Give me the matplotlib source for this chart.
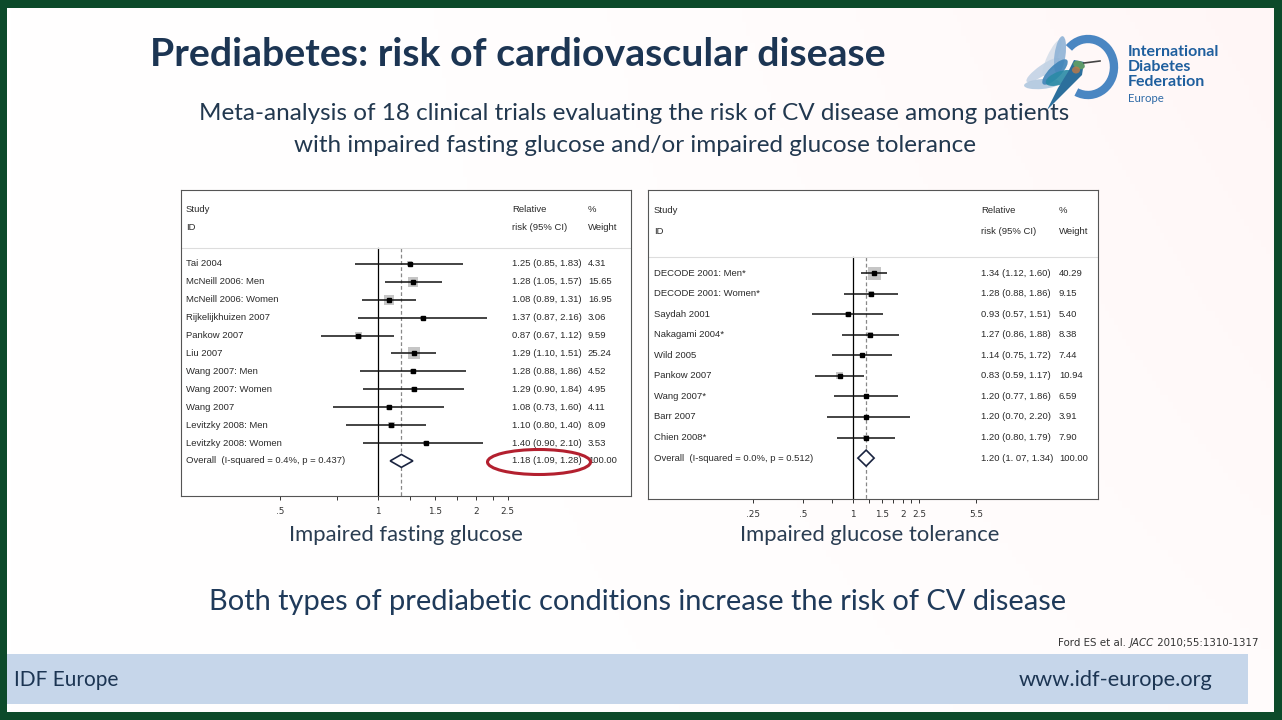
import numpy as np
import matplotlib
matplotlib.use('Agg')
import matplotlib.pyplot as plt
from matplotlib.patches import Rectangle, Ellipse, Polygon, Arc
from matplotlib.ticker import NullLocator
from matplotlib.transforms import blended_transform_factory

# impaired fasting glucose
ifg_studies = ["Tai 2004", "McNeill 2006: Men", "McNeill 2006: Women", "Rijkelijkhuizen 2007",
               "Pankow 2007", "Liu 2007", "Wang 2007: Men", "Wang 2007: Women", "Wang 2007",
               "Levitzky 2008: Men", "Levitzky 2008: Women"]
ifg_rr = [1.25, 1.28, 1.08, 1.37, 0.87, 1.29, 1.28, 1.29, 1.08, 1.10, 1.40]
ifg_lo = [0.85, 1.05, 0.89, 0.87, 0.67, 1.10, 0.88, 0.90, 0.73, 0.80, 0.90]
ifg_hi = [1.83, 1.57, 1.31, 2.16, 1.12, 1.51, 1.86, 1.84, 1.60, 1.40, 2.10]
ifg_wt = [4.31, 15.65, 16.95, 3.06, 9.59, 25.24, 4.52, 4.95, 4.11, 8.09, 3.53]
ifg_overall = [1.18, 1.09, 1.28]
ifg_overall_label = "Overall  (I-squared = 0.4%, p = 0.437)"
ifg_overall_text = "1.18 (1.09, 1.28)"
ifg_ticks = [0.5, 0.75, 1, 1.25, 1.5, 1.75, 2, 2.25, 2.5]
ifg_ticklabels = [".5", "", "1", "", "1.5", "", "2", "", "2.5"]

# impaired glucose tolerance
igt_studies = ["DECODE 2001: Men*", "DECODE 2001: Women*", "Saydah 2001", "Nakagami 2004*",
               "Wild 2005", "Pankow 2007", "Wang 2007*", "Barr 2007", "Chien 2008*"]
igt_rr = [1.34, 1.28, 0.93, 1.27, 1.14, 0.83, 1.20, 1.20, 1.20]
igt_lo = [1.12, 0.88, 0.57, 0.86, 0.75, 0.59, 0.77, 0.70, 0.80]
igt_hi = [1.60, 1.86, 1.51, 1.88, 1.72, 1.17, 1.86, 2.20, 1.79]
igt_wt = [40.29, 9.15, 5.40, 8.38, 7.44, 10.94, 6.59, 3.91, 7.90]
igt_overall = [1.20, 1.07, 1.34]
igt_overall_label = "Overall  (I-squared = 0.0%, p = 0.512)"
igt_overall_text = "1.20 (1. 07, 1.34)"
igt_ticks = [0.25, 0.5, 0.75, 1, 1.25, 1.5, 1.75, 2, 2.25, 2.5, 5.5]
igt_ticklabels = [".25", ".5", "", "1", "", "1.5", "", "2", "", "2.5", "5.5"]

W, H = 1282, 720
NAVY = '#1c3553'


def fx(px):
    return px / W


def fy(py):
    return 1 - py / H


fig = plt.figure(figsize=(12.82, 7.2), dpi=100, facecolor='#0c4a2a')

# slide background, faint warm tint towards the top right
bg = fig.add_axes([fx(7), fy(712), fx(1274) - fx(7), fy(8) - fy(712)])
gx = np.linspace(0, 1, 300)[None, :] ** 2
gy = np.linspace(1, 0, 100)[:, None]
tint = 0.035 * gx * (0.4 + 0.6 * gy)
img = np.ones((100, 300, 3))
img[:, :, 1] -= tint
img[:, :, 2] -= tint
bg.imshow(img, aspect='auto', extent=(0, 1, 0, 1))
bg.axis('off')

fig.patches.append(Rectangle((fx(7), fy(704)), fx(1248) - fx(7), (704 - 654) / H,
                             transform=fig.transFigure, facecolor='#c6d6ea', edgecolor='none'))

renderer = fig.canvas.get_renderer()


def fit_text(x, y, s, width, ha='left', size=20, **kw):
    t = fig.text(fx(x), fy(y), s, fontsize=size, ha=ha, va='center', **kw)
    w = t.get_window_extent(renderer).width
    t.set_fontsize(size * width / w)
    return t


def forest(box, x1_px, k, studies, rr, lo, hi, wt, overall, olabel, otext,
           ticks, ticklabels, yrange, hdr, sep, side_max, dh, cols):
    left, top, right, bottom = box
    ax = fig.add_axes([fx(left), fy(bottom), fx(right) - fx(left), (bottom - top) / H])
    ax.set_facecolor('white')
    ax.set_xscale('log')
    ax.set_xlim(np.exp((left - x1_px) / k), np.exp((right - x1_px) / k))
    ax.set_ylim(yrange)
    n = len(studies)
    rows = np.arange(n)
    ybot = yrange[0]

    ax.axhline(sep, color='#dddddd', lw=0.8)
    ax.plot([1, 1], [sep, ybot], color='black', lw=0.9, zorder=1)
    ax.plot([overall[0], overall[0]], [sep, ybot], color='#888888', lw=0.9,
            ls=(0, (3, 2)), zorder=1)

    sides = side_max * np.sqrt(np.array(wt) / max(wt)) * 0.72
    ax.scatter(rr, rows, marker='s', s=sides ** 2, c='#c6c6c6', linewidths=0, zorder=2)
    ax.hlines(rows, lo, hi, color='#111111', lw=1.1, zorder=3)
    ax.plot(rr, rows, 's', color='black', ms=2.4, zorder=4)

    est, olo, ohi = overall
    ax.add_patch(Polygon([[olo, n], [est, n - dh], [ohi, n], [est, n + dh]], closed=True,
                         facecolor='white', edgecolor='#1a2440', lw=1.2, zorder=4))

    tr = blended_transform_factory(ax.transAxes, ax.transData)
    fkw = dict(fontsize=6.8, family='Liberation Sans', color='#2a2a2a', va='center', transform=tr)
    cs, cr, cw = cols
    ax.text(cs, hdr[0], "Study", **fkw)
    ax.text(cs, hdr[1], "ID", **fkw)
    ax.text(cr, hdr[0], "Relative", **fkw)
    ax.text(cr, hdr[1], "risk (95% CI)", **fkw)
    ax.text(cw, hdr[0], "%", **fkw)
    ax.text(cw, hdr[1], "Weight", **fkw)
    for i in range(n):
        ax.text(cs, i, studies[i], **fkw)
        ax.text(cr, i, "%.2f (%.2f, %.2f)" % (rr[i], lo[i], hi[i]), **fkw)
        ax.text(cw, i, "%.2f" % wt[i], **fkw)
    ax.text(cs, n, olabel, **fkw)
    ax.text(cr, n, otext, **fkw)
    ax.text(cw, n, "100.00", **fkw)

    ax.set_xticks(ticks)
    ax.set_xticklabels(ticklabels)
    ax.xaxis.set_minor_locator(NullLocator())
    ax.set_yticks([])
    ax.tick_params(axis='x', direction='out', length=3, width=0.7, labelsize=6.4, pad=5,
                   colors='#333333')
    for s in ax.spines.values():
        s.set_color('#555555')
        s.set_linewidth(0.8)
    return ax


forest((181, 190, 631, 496), 378, 141.4, ifg_studies, ifg_rr, ifg_lo, ifg_hi, ifg_wt,
       ifg_overall, ifg_overall_label, ifg_overall_text, ifg_ticks, ifg_ticklabels,
       (12.96, -4.13), (-3.02, -2.01), -0.89, 12, 0.36, (0.011, 0.736, 0.904))

forest((648, 190, 1098, 499), 853, 72.1, igt_studies, igt_rr, igt_lo, igt_hi, igt_wt,
       igt_overall, igt_overall_label, igt_overall_text, igt_ticks, igt_ticklabels,
       (10.99, -4.04), (-3.02, -2.04), -0.78, 13, 0.39, (0.013, 0.74, 0.913))

# red highlight around the overall estimate
fig.add_artist(Ellipse((fx(539), fy(462)), 103 / W, 25 / H, transform=fig.transFigure,
                       facecolor='none', edgecolor='#b3202f', lw=2.2, zorder=10))

# slide texts
fit_text(150, 55, "Prediabetes: risk of cardiovascular disease", 737, weight='bold',
         family='Lato', color=NAVY)
t = fit_text(634.5, 114, "Meta-analysis of 18 clinical trials evaluating the risk of CV disease among patients",
             871, ha='center', family='Lato', color='#22384f')
fig.text(fx(634.5), fy(146), "with impaired fasting glucose and/or impaired glucose tolerance",
         fontsize=t.get_fontsize(), ha='center', va='center', family='Lato', color='#22384f')
t = fit_text(406, 535, "Impaired fasting glucose", 234, ha='center', family='Lato', color='#2a3d52')
fig.text(fx(869.5), fy(535), "Impaired glucose tolerance", fontsize=t.get_fontsize(),
         ha='center', va='center', family='Lato', color='#2a3d52')
fit_text(637.5, 602, "Both types of prediabetic conditions increase the risk of CV disease", 859,
         ha='center', family='Lato', color='#1f3a5a')
fit_text(14, 680, "IDF Europe", 105, family='Lato', color=NAVY)
fit_text(1212, 680, "www.idf-europe.org", 194, ha='right', family='Lato', color=NAVY)

# citation, built right to left
ckw = dict(fontsize=7.4, family='Liberation Sans Narrow', color='#333333', va='center', ha='right')
xr = 1258
for part, style in [(" 2010;55:1310-1317", 'normal'), ("JACC", 'italic'), ("Ford ES et al. ", 'normal')]:
    tt = fig.text(fx(xr), fy(643), part, style=style, **ckw)
    xr -= tt.get_window_extent(renderer).width

# logo
lg = fig.add_axes([fx(1020), fy(118), 110 / W, 90 / H])
lg.set_xlim(1020, 1130)
lg.set_ylim(-118, -28)
lg.axis('off')
lg.add_patch(Arc((1088, -67), 52, 56, theta1=-115, theta2=135, color='#4a86c2', lw=6))
feathers = [((1052, -58), 40, 10, 65, '#d6dfea'), ((1043, -70), 40, 10, 35, '#c3d3e5'),
            ((1042, -84), 36, 10, 5, '#b0c8df'), ((1060, -55), 38, 11, 82, '#8fb3d6'),
            ((1055, -72), 34, 12, 45, '#3f84b8'), ((1060, -78), 30, 13, 20, '#2a8aa6')]
for c, w_, h_, ang, col in feathers:
    lg.add_patch(Ellipse(c, w_, h_, angle=ang, facecolor=col, edgecolor='none', alpha=0.9))
lg.add_patch(Polygon([[1074, -60], [1084, -62], [1082, -75], [1062, -95], [1047, -110],
                      [1058, -88], [1068, -72]], closed=True, facecolor='#2c6f9c', edgecolor='none'))
lg.add_patch(Ellipse((1079, -65), 12, 8, angle=-20, facecolor='#5d9a6a', edgecolor='none'))
lg.add_patch(Ellipse((1076, -70), 8, 7, facecolor='#c07a45', edgecolor='none', alpha=0.8))
lg.plot([1084, 1100], [-63, -61], color='#444444', lw=1.2)

lkw = dict(family='Lato', weight='bold', color='#1f5f9e')
t = fit_text(1128, 52, "International", 92, **lkw)
for s, yy in [("Diabetes", 67), ("Federation", 82)]:
    fig.text(fx(1128), fy(yy), s, fontsize=t.get_fontsize(), va='center', **lkw)
fit_text(1128, 99, "Europe", 36, family='Lato', color='#2e6aa6')

fig.savefig('out.png', dpi=100, facecolor=fig.get_facecolor())
